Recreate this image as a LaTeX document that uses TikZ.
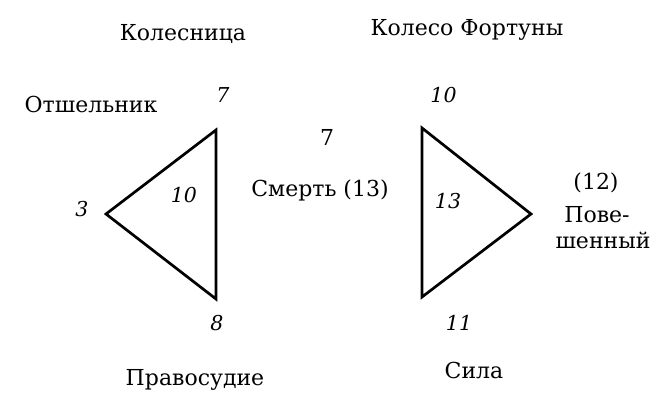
\documentclass[tikz,border=0pt]{standalone}
\usepackage{fontspec}
\setmainfont{DejaVu Serif}
\begin{document}
\begin{tikzpicture}[x=1pt,y=-1pt,
  lbl/.style={inner sep=0pt,anchor=base,font=\fontsize{22}{26}\selectfont},
  num/.style={inner sep=0pt,anchor=base,font=\fontsize{20.5}{24}\selectfont\itshape},
  tri/.style={line width=2.7pt,line join=miter}]
\useasboundingbox (0,0) rectangle (660,406);
% triangles
\coordinate (L1) at (216,130);
\coordinate (L2) at (106,214);
\coordinate (L3) at (216,299);
\coordinate (R1) at (422,128);
\coordinate (R2) at (531,214);
\coordinate (R3) at (422,297);
\draw[tri] (L1) -- (L2) -- (L3) -- cycle;
\draw[tri] (R1) -- (R2) -- (R3) -- cycle;
% labels
\node[lbl] (kol) at (183,40.5) {Колесница};
\node[lbl] (kf) at (467,35.5) {Колесо Фортуны};
\node[lbl] (ot) at (91,113) {Отшельник};
\node[lbl] (sm) at (320,196.5) {Смерть (13)};
\node[lbl] (s7) at (327,146) {7};
\node[lbl] (p12) at (596,189) {(12)};
\node[lbl] (pove) at (597,222.5) {Пове-};
\node[lbl] (shen) at (603,248) {шенный};
\node[lbl] (prav) at (195,385) {Правосудие};
\node[lbl] (sila) at (474,378.3) {Сила};
% numbers
\node[num] (n7) at (223,103) {7};
\node[num] (n10a) at (443.5,103) {10};
\node[num] (n3) at (82,216) {3};
\node[num] (n8) at (217,330) {8};
\node[num] (n11) at (459,330) {11};
\node[num] (n10b) at (184,202) {10};
\node[num] (n13) at (448,208) {13};
\end{tikzpicture}
\end{document}
